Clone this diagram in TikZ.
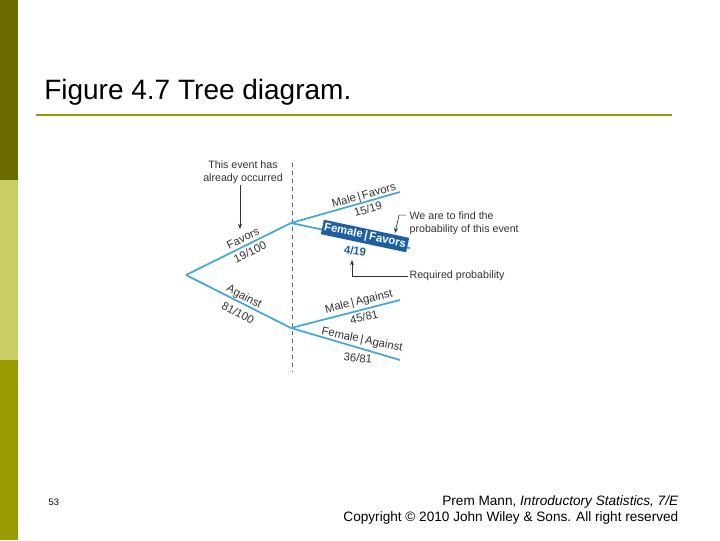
\documentclass[tikz,border=0pt]{standalone}
\usepackage{fontspec}
\setmainfont{Liberation Sans}
\usetikzlibrary{positioning, calc, arrows.meta}
\definecolor{olivedark}{HTML}{6B6B00}
\definecolor{olivelight}{HTML}{CCCC66}
\definecolor{olivemid}{HTML}{999900}
\definecolor{branchblue}{HTML}{3FA9DA}
\definecolor{boxblue}{HTML}{1A5FA8}
\begin{document}
\begin{tikzpicture}[x=0.75pt, y=-0.75pt]
				\tikzstyle{branch}=[draw=branchblue, line width=1.3pt]
				\tikzstyle{blabel}=[font=\fontsize{8.5}{9}\selectfont, inner sep=0.5pt, text=black!80]
				\tikzstyle{note}=[font=\fontsize{8}{9.5}\selectfont, inner sep=1pt, text=black!80, align=left]
				\tikzstyle{pointer}=[draw=black!80, line width=0.5pt, -{Stealth[length=4pt]}]
				
				\useasboundingbox (0,0) rectangle (720,540);
				\fill[white] (0,0) rectangle (720,540);
				% side bar
				\fill[olivedark] (0,0) rectangle (18,180);
				\fill[olivelight] (0,180) rectangle (18,360);
				\fill[olivemid] (0,360) rectangle (18,540);
				
				% title
				\node[anchor=west, font=\fontsize{21}{24}\selectfont, inner sep=0pt] (title) at (44,92) {Figure 4.7 Tree diagram.};
				\draw[olivemid, line width=2pt] (36,115) -- (672,115);
				
				% tree
				\coordinate (root) at (186,275);
				\coordinate (fav) at (291,223);
				\coordinate (aga) at (291,328);
				\coordinate (mf) at (400,192);
				\coordinate (ff) at (410,248);
				\coordinate (ma) at (400,300);
				\coordinate (fa) at (400,360);
				\draw[dashed, black!60, line width=0.5pt] (292,163) -- (292,372);
				\draw[branch] (root) -- (fav);
				\draw[branch] (root) -- (aga);
				\draw[branch] (fav) -- (mf);
				\draw[branch] (fav) -- (ff);
				\draw[branch] (aga) -- (ma);
				\draw[branch] (aga) -- (fa);
				
				\node[blabel, rotate=26] (lfav) at (243,238) {Favors};
				\node[blabel, rotate=26] (pfav) at (250,252) {19/100};
				\node[blabel, rotate=-28] (laga) at (244,297) {Against};
				\node[blabel, rotate=-28] (paga) at (238,313) {81/100};
				\node[blabel, rotate=16] (lmf) at (364,196) {Male\,|\,Favors};
				\node[blabel, rotate=16] (pmf) at (368,209) {15/19};
				\node[rotate=-12, fill=boxblue, text=white, font=\bfseries\fontsize{8.5}{9}\selectfont, inner sep=1.5pt] (lff) at (365,236) {Female\,|\,Favors};
				\node[blabel, rotate=-8, text=boxblue, font=\bfseries\fontsize{8.5}{9}\selectfont] (pff) at (355,251) {4/19};
				\node[blabel, rotate=14] (lma) at (359,302) {Male\,|\,Against};
				\node[blabel, rotate=14] (pma) at (364,317) {45/81};
				\node[blabel, rotate=-12] (lfa) at (362,340) {Female\,|\,Against};
				\node[blabel, rotate=-6] (pfa) at (358,358) {36/81};
				
				% notes
				\node[note, align=center] (occ) at (243,172) {This event has\\already occurred};
				\draw[pointer] (occ.south -| 240,0) -- (240,229);
				\node[note, anchor=west] (find) at (408,223) {We are to find the\\probability of this event};
				\draw[pointer] ($(find.north west)+(-2,5)$) -- ++(-7,0) -- ++(-4,18);
				\node[note, anchor=west] (req) at (408,276) {Required probability};
				\draw[pointer] (req.west) -- (352,276) -- (352,260);
				
				% footer
				\node[anchor=west, font=\fontsize{7}{8}\selectfont] (num) at (44,502) {53};
				\node[anchor=east, font=\fontsize{10.2}{12.5}\selectfont, align=right] (foot) at (683,510) {Prem Mann, \textit{Introductory Statistics, 7/E}\\Copyright © 2010 John Wiley \& Sons. All right reserved};
\end{tikzpicture}
\end{document}
